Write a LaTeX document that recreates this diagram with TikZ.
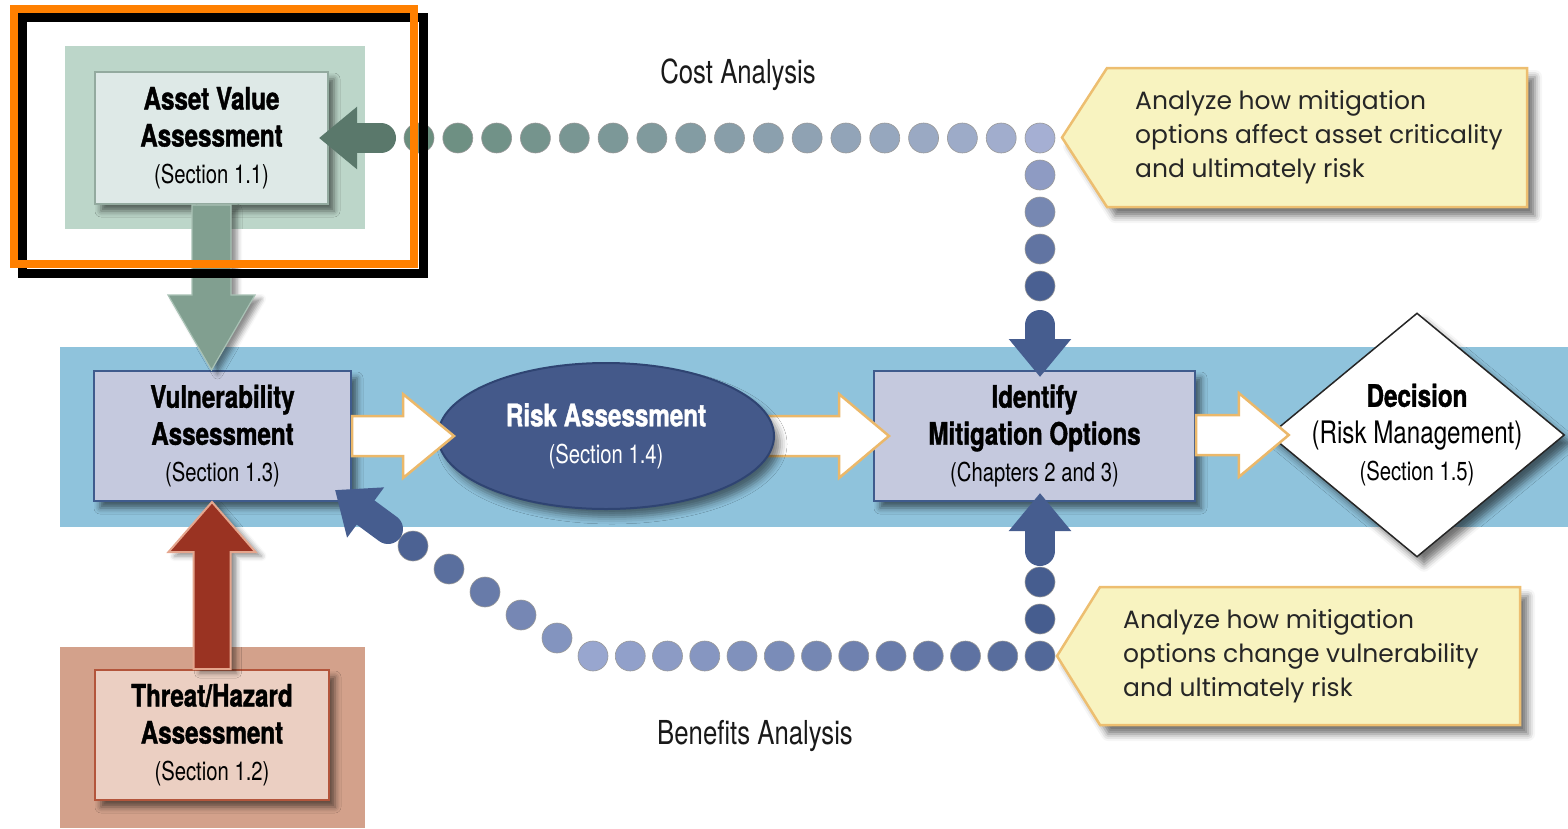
\documentclass[tikz,border=0pt]{standalone}
\usepackage{fontspec}
\setmainfont{TeX Gyre Heros}
\newfontfamily\condfont[FakeStretch=0.78, BoldFeatures={FakeBold=1.2}]{TeX Gyre Heros}
\newfontfamily\notefont{Poppins}
\usetikzlibrary{shapes,arrows,arrows.meta,calc,positioning,backgrounds,shadows.blur}

\definecolor{bandblue}{HTML}{8FC3DC}
\definecolor{assetbg}{HTML}{BCD6C9}
\definecolor{assetfill}{HTML}{DEE9E7}
\definecolor{assetline}{HTML}{93AA9F}
\definecolor{threatbg}{HTML}{D3A18B}
\definecolor{threatfill}{HTML}{EBCFC2}
\definecolor{threatline}{HTML}{B3553B}
\definecolor{boxfill}{HTML}{C5C9DE}
\definecolor{boxline}{HTML}{3F5B8D}
\definecolor{riskfill}{HTML}{44598A}
\definecolor{riskline}{HTML}{2F4472}
\definecolor{greenarrow}{HTML}{819F90}
\definecolor{greenline}{HTML}{A9C2B5}
\definecolor{redarrow}{HTML}{9A3322}
\definecolor{redline}{HTML}{E5A68E}
\definecolor{whiteline}{HTML}{EBB86A}
\definecolor{notefill}{HTML}{F8F3C0}
\definecolor{noteline}{HTML}{EDBE70}
\definecolor{costgreen}{HTML}{6A8E7E}
\definecolor{costblue}{HTML}{A5AFD3}
\definecolor{costarrow}{HTML}{5A786B}
\definecolor{dotdark}{HTML}{465D8F}
\definecolor{dotlight}{HTML}{98A6CF}
\definecolor{frameorange}{HTML}{FF8000}

% block arrows between two points (style, from, to, half shaft, half head, head length)
\newcommand{\harrow}[6]{%
  \draw[#1] let \p1=(#2), \p2=(#3), \n1={sign(\x2-\x1)} in
    (\x1,\y2+#4) -- (\x2-\n1*#6,\y2+#4) -- (\x2-\n1*#6,\y2+#5) -- (\p2)
    -- (\x2-\n1*#6,\y2-#5) -- (\x2-\n1*#6,\y2-#4) -- (\x1,\y2-#4) -- cycle;}
\newcommand{\varrow}[6]{%
  \draw[#1] let \p1=(#2), \p2=(#3), \n1={sign(\y2-\y1)} in
    (\x2+#4,\y1) -- (\x2+#4,\y2-\n1*#6) -- (\x2+#5,\y2-\n1*#6) -- (\p2)
    -- (\x2-#5,\y2-\n1*#6) -- (\x2-#4,\y2-\n1*#6) -- (\x2-#4,\y1) -- cycle;}

\begin{document}
\begin{tikzpicture}[x=1pt, y=-1pt,
    box_shadow/.style ={blur shadow={shadow xshift=6pt, shadow yshift=-7pt,
      shadow blur radius=6pt, shadow opacity=55}},
    block_box/.style ={rectangle, draw=boxline, line width=2pt, fill=boxfill,
      align=center, inner sep=0pt, minimum width=257pt, minimum height=130pt,
      font=\condfont\bfseries\fontsize{31}{37}\selectfont, box_shadow},
    asset_box/.style ={block_box, draw=assetline, fill=assetfill,
      minimum width=233pt, minimum height=132pt},
    threat_box/.style ={block_box, draw=threatline, fill=threatfill,
      minimum width=234pt},
    risk_oval/.style ={ellipse, draw=riskline, line width=2pt, fill=riskfill,
      text=white, align=center, inner sep=0pt,
      minimum width=336pt, minimum height=146pt,
      font=\condfont\bfseries\fontsize{31}{37}\selectfont,
      blur shadow={shadow xshift=6pt, shadow yshift=-8pt, shadow blur radius=7pt, shadow opacity=50}},
    decision_box/.style ={diamond, draw=black!85, line width=1.5pt, fill=white,
      inner sep=0pt, minimum width=295pt, minimum height=244pt,
      blur shadow={shadow xshift=7pt, shadow yshift=-8pt, shadow blur radius=7pt, shadow opacity=55}},
    decision_text/.style ={align=center, inner sep=0pt,
      font=\condfont\bfseries\fontsize{31}{37}\selectfont},
    white_arrow/.style ={fill=white, draw=whiteline, line width=2.5pt},
    green_arrow/.style ={fill=greenarrow, draw=greenline, line width=1.2pt,
      blur shadow={shadow xshift=6pt, shadow yshift=-4pt, shadow blur radius=5pt, shadow opacity=45}},
    red_arrow/.style ={fill=redarrow, draw=redline, line width=2pt,
      blur shadow={shadow xshift=6pt, shadow yshift=-4pt, shadow blur radius=5pt, shadow opacity=45}},
    dot_style/.style ={draw=black!40, line width=0.6pt},
    dot_arrow/.style ={line width=30pt, line cap=round, -{Triangle[length=38pt, width=60pt]}},
    note_shape/.style ={fill=notefill, draw=noteline, line width=2.5pt,
      blur shadow={shadow xshift=8pt, shadow yshift=-9pt, shadow blur radius=7pt, shadow opacity=55}},
    note_text/.style ={align=left, inner sep=0pt, text=black!85,
      font=\notefont\fontsize{25}{34}\selectfont},
    label_text/.style ={inner sep=0pt, text=black!90,
      font=\condfont\fontsize{33}{38}\selectfont}]
    \begin{pgfonlayer}{background}
      \fill[white] (0,0) rectangle (1568,828);
    \end{pgfonlayer}
    \useasboundingbox (0,0) rectangle (1568,828);
    % coloured backdrops
    \fill[bandblue] (60,347) rectangle (1568,527);
    \fill[assetbg] (65,46) rectangle (365,229);
    \fill[threatbg] (60,647) rectangle (365,828);
    % first shadow of the page, kept under the identify box
    \path[box_shadow] (1020,425) rectangle (1030,435);
    % the assessment boxes
    \node [asset_box] (asset) at (211.5,138) {Asset Value\\Assessment\\{\mdseries\fontsize{26}{37}\selectfont (Section 1.1)}};
    \node [block_box] (vuln) at (222.5,436) {Vulnerability\\Assessment\\{\mdseries\fontsize{26}{37}\selectfont (Section 1.3)}};
    \node [threat_box] (threat) at (212,735) {Threat/Hazard\\Assessment\\{\mdseries\fontsize{26}{37}\selectfont (Section 1.2)}};
    \node [block_box, minimum width=321pt] (ident) at (1034.5,436) {Identify\\Mitigation Options\\{\mdseries\fontsize{26}{37}\selectfont (Chapters 2 and 3)}};
    \node [decision_box, label={[decision_text]center:{Decision\\{\mdseries (Risk Management)}\\{\mdseries\fontsize{26}{37}\selectfont (Section 1.5)}}}] (decide) at (1417,435) {};
    % flow along the band
    \harrow{white_arrow}{$(ident.west)+(-110,0)$}{$(ident.west)+(16,0)$}{20pt}{42pt}{50pt}
    \node [risk_oval] (risk) at (606,436) {Risk Assessment\\{\mdseries\fontsize{26}{37}\selectfont (Section 1.4)}};
    \harrow{white_arrow}{vuln.east}{$(risk.west)+(17,0)$}{20pt}{42pt}{51pt}
    \harrow{white_arrow}{ident.east}{$(decide.west)+(20,0)$}{20pt}{42pt}{50pt}
    % inputs to vulnerability
    \varrow{green_arrow}{asset.south}{asset.south |- vuln.north}{19.5pt}{43.5pt}{75pt}
    \varrow{red_arrow}{threat.north}{threat.north |- vuln.south}{18.5pt}{43.5pt}{50pt}
    % cost analysis dots
    \coordinate (costcorner) at (1040,138);
    \coordinate (costlast) at ($(asset.east)+(90,0)$);
    \foreach \i in {0,...,16}{
      \pgfmathsetmacro\t{\i/16}
      \pgfmathtruncatemacro\mix{100-\i*100/16}
      \path[dot_style, fill=costblue!\mix!costgreen] ($(costcorner)!\t!(costlast)$) circle (15pt);
    }
    \foreach \k in {1,...,4}{
      \pgfmathtruncatemacro\mix{\k*24}
      \path[dot_style, fill=dotdark!\mix!costblue] ($(costcorner)+(0,37*\k)$) circle (15pt);
    }
    \draw[dot_arrow, draw=costarrow, fill=costarrow] ($(costlast)+(-38,0)$) -- ($(asset.east)+(-10,0)$);
    \draw[dot_arrow, draw=dotdark, fill=dotdark] ($(costcorner)+(0,187)$) -- ($(costcorner |- ident.north)+(0,7)$);
    % benefits analysis dots
    \coordinate (bencorner) at (1040,656);
    \coordinate (benlast) at (593,656);
    \coordinate (bendiag) at (557,638);
    \coordinate (bentop) at (413,546);
    \foreach \i in {0,...,12}{
      \pgfmathsetmacro\t{\i/12}
      \pgfmathtruncatemacro\mix{15+\i*85/12}
      \path[dot_style, fill=dotlight!\mix!dotdark] ($(bencorner)!\t!(benlast)$) circle (15pt);
    }
    \foreach \i in {0,...,4}{
      \pgfmathsetmacro\t{\i/4}
      \pgfmathtruncatemacro\mix{25+\i*17}
      \path[dot_style, fill=dotdark!\mix!dotlight] ($(bendiag)!\t!(bentop)$) circle (15pt);
    }
    \foreach \k in {1,2}{
      \path[dot_style, fill=dotdark] ($(bencorner)+(0,-37*\k)$) circle (15pt);
    }
    \draw[dot_arrow, draw=dotdark, fill=dotdark] ($(bencorner)+(0,-105)$) -- ($(bencorner |- ident.south)+(0,-9)$);
    \draw[dot_arrow, draw=dotdark, fill=dotdark] ($(vuln.south east)+(36,27)$) -- ($(vuln.south east)+(-17,-12)$);
    % labels
    \node [label_text] (costlabel) at (738,75) {Cost Analysis};
    \node [label_text] (benlabel) at (755,736) {Benefits Analysis};
    % callouts
    \node [note_text, anchor=west] (costnote) at (1135,137.5) {Analyze how mitigation\\options affect asset criticality\\and ultimately risk};
    \node [note_text, anchor=west] (bennote) at (1123,656) {Analyze how mitigation\\options change vulnerability\\and ultimately risk};
    \begin{pgfonlayer}{background}
      \draw[note_shape] ($(costnote.west)+(-28,-69.5)$) -- ($(costnote.west)+(392,-69.5)$)
        -- ($(costnote.west)+(392,69.5)$) -- ($(costnote.west)+(-28,69.5)$)
        -- ($(costnote.west)+(-73,0)$) -- cycle;
      \draw[note_shape] ($(bennote.west)+(-23,-69)$) -- ($(bennote.west)+(397,-69)$)
        -- ($(bennote.west)+(397,69)$) -- ($(bennote.west)+(-23,69)$)
        -- ($(bennote.west)+(-66,0)$) -- cycle;
    \end{pgfonlayer}
    % highlight frame
    \draw[black, line width=9pt] (22,17) rectangle (423,273);
    \draw[frameorange, line width=8pt] (14,9) rectangle (414,264);
\end{tikzpicture}
\end{document}
